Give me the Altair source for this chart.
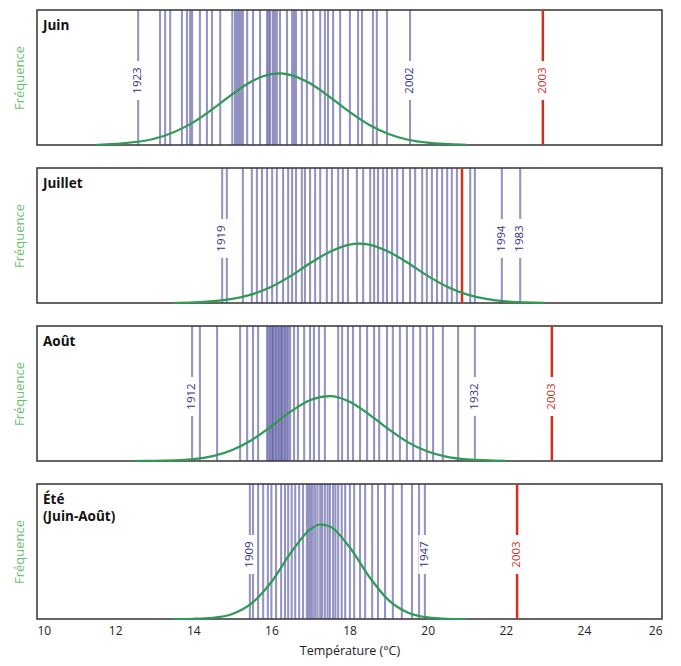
import altair as alt
import pandas as pd

# ---------------- data ----------------
panel_titles = ["Juin", "Juillet", "Août", "Été\n(Juin-Août)"]

juin_years = [12.59, 13.15, 13.28, 13.41, 13.71, 13.84, 13.92, 13.97, 14.17, 14.35,
              14.48, 14.69, 15.00, 15.07, 15.12, 15.17, 15.22, 15.27, 15.38, 15.53,
              15.71, 15.89, 15.93, 15.97, 16.04, 16.09, 16.14, 16.22, 16.40, 16.53,
              16.58, 16.63, 16.78, 16.91, 17.07, 17.25, 17.37, 17.45, 17.58, 17.76,
              18.01, 18.22, 18.32, 18.60, 18.70, 18.96, 19.55]
juillet_years = [14.74, 14.86, 15.27, 15.50, 15.63, 15.76, 15.89, 16.02, 16.14, 16.30,
                 16.43, 16.53, 16.63, 16.78, 16.86, 16.99, 17.12, 17.25, 17.42, 17.55,
                 17.71, 17.83, 17.96, 18.19, 18.35, 18.53, 18.63, 18.73, 18.86, 18.96,
                 19.09, 19.22, 19.37, 19.55, 19.68, 19.86, 19.98, 20.11, 20.24, 20.37,
                 20.50, 20.62, 20.75, 21.09, 21.21, 21.90, 22.37]
aout_years = [13.97, 14.17, 14.61, 15.20, 15.38, 15.53, 15.66, 15.89, 15.93, 15.97,
              16.01, 16.04, 16.08, 16.12, 16.16, 16.20, 16.24, 16.27, 16.31, 16.35,
              16.39, 16.43, 16.48, 16.58, 16.68, 16.84, 16.99, 17.09, 17.22, 17.37,
              17.71, 17.81, 17.96, 18.09, 18.27, 18.45, 18.63, 18.76, 18.96, 19.11,
              19.29, 19.47, 19.63, 19.81, 19.98, 20.14, 20.39, 20.78, 21.21]
ete_years = [15.45, 15.53, 15.66, 15.79, 15.91, 16.00, 16.12, 16.25, 16.35, 16.43,
             16.52, 16.61, 16.71, 16.81, 16.91, 16.96, 17.01, 17.06, 17.12, 17.18,
             17.25, 17.30, 17.37, 17.44, 17.50, 17.58, 17.64, 17.71, 17.80, 17.89,
             18.01, 18.12, 18.27, 18.40, 18.58, 18.73, 18.91, 19.11, 19.34, 19.60,
             19.78, 19.93]

juin_labels = [("1923", 12.59), ("2002", 19.55)]
juillet_labels = [("1919", 14.74), ("1994", 21.90), ("1983", 22.37)]
aout_labels = [("1912", 13.97), ("1932", 21.21)]
ete_labels = [("1909", 15.45), ("1947", 19.93)]

record_2003 = [22.95, 20.88, 23.18, 22.29]
record_labelled = [True, False, True, True]

curve_t = {
    "Juin": [11.5, 12, 13, 14, 14.5, 15, 15.5, 16, 16.25, 16.5, 17, 17.5, 18, 18.5, 19, 19.5, 20, 21],
    "Juillet": [13.5, 14, 15, 15.5, 16, 16.5, 17, 17.5, 18, 18.25, 18.5, 19, 19.5, 20, 20.5, 21, 21.5, 22, 23],
    "Août": [12.5, 13, 14, 14.5, 15, 15.5, 16, 16.5, 17, 17.5, 18, 18.5, 19, 19.5, 20, 20.5, 21, 22],
    "Été": [13.5, 14, 14.5, 15, 15.5, 16, 16.5, 17, 17.25, 17.5, 18, 18.5, 19, 19.5, 20, 20.5, 21],
}
curve_f = {
    "Juin": [0.0, 0.008, 0.046, 0.168, 0.267, 0.376, 0.472, 0.525, 0.530, 0.518, 0.455, 0.354,
             0.245, 0.150, 0.082, 0.039, 0.017, 0.002],
    "Juillet": [0.0, 0.004, 0.030, 0.064, 0.121, 0.201, 0.296, 0.380, 0.433, 0.440, 0.433, 0.380,
                0.296, 0.201, 0.121, 0.064, 0.030, 0.012, 0.001],
    "Août": [0.0, 0.001, 0.014, 0.036, 0.082, 0.156, 0.257, 0.367, 0.452, 0.480, 0.439,
             0.346, 0.236, 0.138, 0.070, 0.030, 0.012, 0.001],
    "Été": [0.0, 0.002, 0.009, 0.037, 0.117, 0.274, 0.491, 0.666, 0.700, 0.685, 0.533, 0.315,
            0.140, 0.047, 0.012, 0.002, 0.0],
}

x_ticks = [10, 12, 14, 16, 18, 20, 22, 24, 26]

# ---------------- chart ----------------
FONT = "Open Sans"
W, H = 625, 135
xscale = alt.Scale(domain=[10, 26], nice=False, zero=False)
yscale = alt.Scale(domain=[0, 1], nice=False, zero=True)

years_all = [juin_years, juillet_years, aout_years, ete_years]
labels_all = [juin_labels, juillet_labels, aout_labels, ete_labels]
keys = ["Juin", "Juillet", "Août", "Été"]

panels = []
for i, title in enumerate(panel_titles):
    last = i == 3
    if last:
        xaxis = alt.Axis(values=x_ticks, labels=True, ticks=False, domain=False, grid=False,
                         labelFontSize=12, labelColor="#222", labelFont=FONT,
                         labelPadding=6, title="Température (°C)", titleFontSize=12.5,
                         titleFontWeight="normal", titleColor="#222", titleFont=FONT,
                         titlePadding=8)
    else:
        xaxis = None
    yaxis = alt.Axis(labels=False, ticks=False, domain=False, grid=False,
                     title="Fréquence", titleColor="#6cc070", titleFontSize=13,
                     titleFontWeight="normal", titleFont=FONT, titlePadding=11)

    def X():
        return alt.X("t:Q", scale=xscale, axis=xaxis)

    df_years = pd.DataFrame({"t": years_all[i]})
    df_lab = pd.DataFrame({"year": [a for a, b in labels_all[i]],
                           "t": [b for a, b in labels_all[i]]})
    df_rec = pd.DataFrame({"t": [record_2003[i]], "year": ["2003"]})
    df_curve = pd.DataFrame({"t": curve_t[keys[i]], "f": curve_f[keys[i]]})
    df_title = pd.DataFrame({"txt": [title]})

    lines = alt.Chart(df_years).mark_rule(color="#34348c", strokeWidth=2.1, opacity=0.52).encode(
        x=X(),
    )
    gaps = alt.Chart(df_lab).mark_rule(color="white", strokeWidth=13).encode(
        x=X(), y=alt.value(51), y2=alt.value(90),
    )
    labs = alt.Chart(df_lab).mark_text(angle=270, fontSize=11.5, color="#30308a", font=FONT).encode(
        x=X(), y=alt.value(70.5), text="year:N",
    )
    rec = alt.Chart(df_rec).mark_rule(color="#d0301e", strokeWidth=2.5).encode(
        x=X(),
    )
    layers = [lines, gaps, labs, rec]
    if record_labelled[i]:
        rgap = alt.Chart(df_rec).mark_rule(color="white", strokeWidth=13).encode(
            x=X(), y=alt.value(51), y2=alt.value(90),
        )
        rlab = alt.Chart(df_rec).mark_text(angle=270, fontSize=11.5, color="#d0301e", font=FONT).encode(
            x=X(), y=alt.value(70.5), text="year:N",
        )
        layers += [rgap, rlab]
    curve = alt.Chart(df_curve).mark_line(color="#2f9a52", strokeWidth=2.2,
                                          interpolate="monotone").encode(
        x=X(),
        y=alt.Y("f:Q", scale=yscale, axis=yaxis),
    )
    ttl = alt.Chart(df_title).mark_text(align="left", baseline="top", fontSize=13.5,
                                        fontWeight="bold", color="#111", font=FONT,
                                        lineBreak="\n", lineHeight=17).encode(
        x=alt.value(6), y=alt.value(9), text="txt:N",
    )
    layers += [curve, ttl]
    panels.append(alt.layer(*layers).properties(width=W, height=H))

chart = alt.vconcat(*panels, spacing=15).properties(
    padding={"left": 4, "top": 0, "right": 5, "bottom": 0},
    background="white",
).configure_view(stroke="#333333", strokeWidth=1.5)

chart.save("out.html", embed_options={"renderer": "svg", "actions": False})
